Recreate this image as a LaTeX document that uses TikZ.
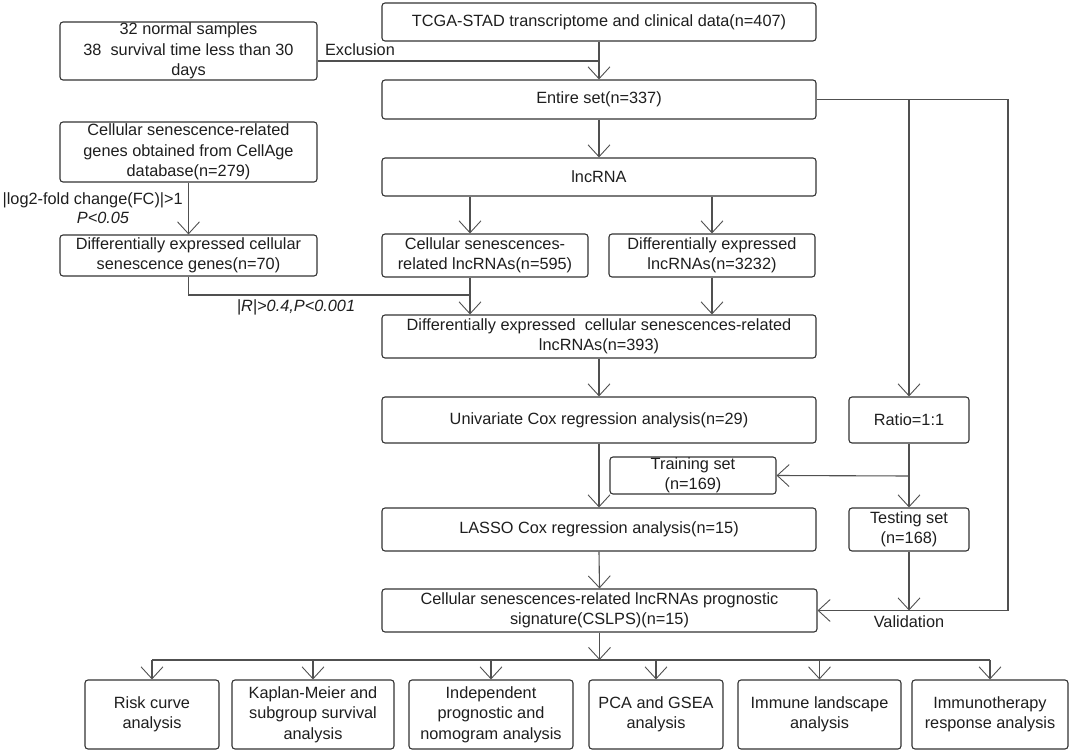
\documentclass[tikz,border=0pt]{standalone}
\usepackage{fontspec}
\setmainfont{Liberation Sans}
\usetikzlibrary{arrows.meta}
\definecolor{linec}{HTML}{505050}
\definecolor{boxc}{HTML}{333333}
\definecolor{txtc}{HTML}{1E1E1E}
\begin{document}
\begin{tikzpicture}[x=1pt,y=-1pt,
  box/.style={draw=boxc, line width=1.1pt, rounded corners=3pt, inner sep=0pt, align=center,
    font=\fontsize{16.3}{20.5}\selectfont, text=txtc},
  arr/.style={draw=linec, line width=1.1pt, -{Straight Barb[length=12pt,width=22pt,line width=0.9pt]}},
  ln/.style={draw=linec, line width=1.1pt},
  lbl/.style={inner sep=0pt, font=\fontsize{16.3}{19}\selectfont, text=txtc, align=center}]
\useasboundingbox (0,0) rectangle (1072,754);
% main column
\node[box, minimum width=434pt, minimum height=38pt] (tcga) at (599,22) {TCGA-STAD transcriptome and clinical data(n=407)};
\node[box, minimum width=257pt, minimum height=58pt] (excl) at (188.5,51) {32 normal samples\\38~~survival time less than 30\\days};
\node[box, minimum width=434pt, minimum height=39pt] (entire) at (599,99.5) {Entire set(n=337)};
\node[box, minimum width=257pt, minimum height=60pt] (csg) at (188.5,152) {Cellular senescence-related\\genes obtained from CellAge\\database(n=279)};
\node[box, minimum width=434pt, minimum height=38pt] (lnc) at (599,177) {lncRNA};
\node[box, minimum width=257pt, minimum height=41pt] (deg) at (188.5,255.5) {Differentially expressed cellular\\senescence genes(n=70)};
\node[box, minimum width=206pt, minimum height=43pt] (cslnc) at (485,255.5) {Cellular senescences-\\related lncRNAs(n=595)};
\node[box, minimum width=206pt, minimum height=43pt] (delnc) at (712,255.5) {Differentially expressed\\lncRNAs(n=3232)};
\node[box, minimum width=434pt, minimum height=43pt] (decs) at (599,336.5) {Differentially expressed~~cellular senescences-related\\lncRNAs(n=393)};
\node[box, minimum width=434pt, minimum height=46pt] (univ) at (599,420) {Univariate Cox regression analysis(n=29)};
\node[box, minimum width=120pt, minimum height=46pt] (ratio) at (909,420) {Ratio=1:1};
\node[box, minimum width=166pt, minimum height=37pt] (training) at (693,475.5) {Training set\\(n=169)};
\node[box, minimum width=434pt, minimum height=43pt] (lasso) at (599,529.5) {LASSO Cox regression analysis(n=15)};
\node[box, minimum width=120pt, minimum height=43pt] (testing) at (909,529.5) {Testing set\\(n=168)};
\node[box, minimum width=435pt, minimum height=43pt] (cslps) at (599.5,610.5) {Cellular senescences-related lncRNAs prognostic\\signature(CSLPS)(n=15)};
% bottom row
\node[box, minimum width=134pt, minimum height=69pt] (b1) at (152,714.5) {Risk curve\\analysis};
\node[box, minimum width=162pt, minimum height=69pt] (b2) at (313,714.5) {Kaplan-Meier and\\subgroup survival\\analysis};
\node[box, minimum width=164pt, minimum height=69pt] (b3) at (491,714.5) {Independent\\prognostic and\\nomogram analysis};
\node[box, minimum width=134pt, minimum height=69pt] (b4) at (656,714.5) {PCA and GSEA\\analysis};
\node[box, minimum width=163pt, minimum height=69pt] (b5) at (819.5,714.5) {Immune landscape\\analysis};
\node[box, minimum width=156pt, minimum height=69pt] (b6) at (990,714.5) {Immunotherapy\\response analysis};
% labels
\node[lbl, anchor=east] (lfc) at (183,200) {|log2-fold change(FC)|>1};
\node[lbl] (lp) at (103,217.5) {\itshape P<0.05};
\node[lbl] (lr) at (296,307) {\itshape |R|>0.4,P<0.001};
\node[lbl] (lex) at (360,50) {Exclusion};
\node[lbl] (lval) at (909,622) {Validation};
% coordinates
\coordinate (exj) at (599,61);
\coordinate (j1) at (470,295);
\coordinate (r1) at (909,99.5);
\coordinate (rr) at (1008,610.5);
\coordinate (tj) at (909,476);
\coordinate (bl) at (599.5,660);
% connectors
\draw[ln] (excl.east |- exj) -- (exj);
\draw[arr] (tcga.south) -- (entire.north);
\draw[arr] (entire.south) -- (lnc.north);
\draw[arr] (csg.south) -- (deg.north);
\draw[arr] (j1 |- lnc.south) -- (j1 |- cslnc.north);
\draw[arr] (delnc.north |- lnc.south) -- (delnc.north);
\draw[ln] (deg.south) |- (j1);
\draw[arr] (j1 |- cslnc.south) -- (j1 |- decs.north);
\draw[arr] (delnc.south) -- (delnc.south |- decs.north);
\draw[arr] (decs.south) -- (univ.north);
\draw[arr] (univ.south) -- (lasso.north);
\draw[arr] (lasso.south) -- (cslps.north);
\draw[ln] (entire.east) -| (rr);
\draw[arr] (rr) -- (cslps.east);
\draw[arr] (r1) -- (ratio.north);
\draw[arr] (ratio.south) -- (testing.north);
\draw[arr] (tj) -- (training.east);
\draw[arr] (testing.south) -- (testing.south |- rr);
\draw[arr] (cslps.south) -- (bl);
\draw[ln] (b1.north |- bl) -- (b6.north |- bl);
\foreach \b in {b1,b2,b3,b4,b5,b6}{\draw[arr] (\b.north |- bl) -- (\b.north);}
\end{tikzpicture}
\end{document}
